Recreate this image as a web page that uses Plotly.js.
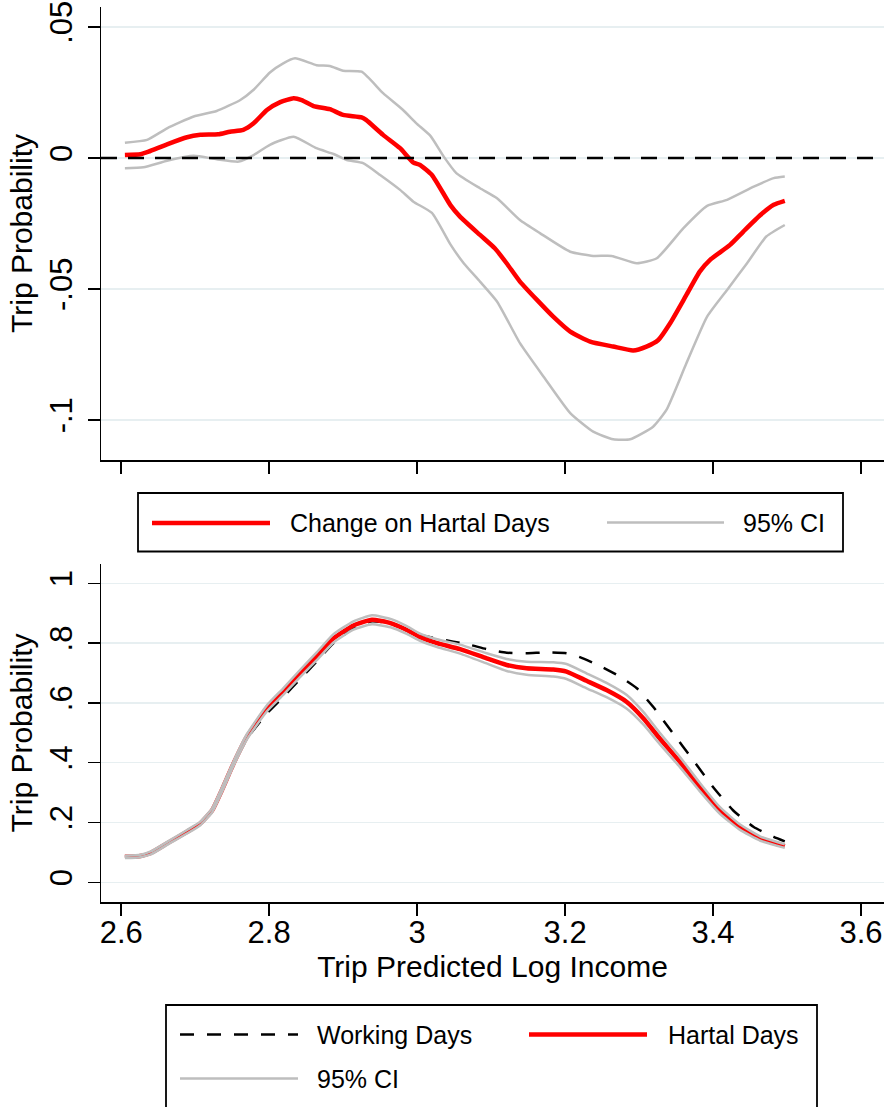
<!DOCTYPE html>
<html>
<head>
<meta charset="utf-8">
<script src="https://cdn.plot.ly/plotly-3.0.1.min.js"></script>
<style>
  html, body { margin: 0; padding: 0; background: #ffffff; }
  #chart { width: 886px; height: 1107px; }
</style>
</head>
<body>
<div id="chart"></div>
<script>
// ---- Top panel: change in trip probability on hartal days ----
const changeX = [2.605,2.626,2.637,2.662,2.689,2.707,2.731,2.747,2.765,2.779,2.797,2.815,2.833,2.844,2.860,2.882,2.900,2.925,2.931,2.954,2.977,2.995,3.004,3.020,3.045,3.058,3.085,3.105,3.121,3.139,3.162,3.184,3.207,3.234,3.265,3.292,3.310,3.326,3.342,3.364,3.382,3.396,3.423,3.441,3.464,3.482,3.497];
const changeY = [0.0011,0.0014,0.0024,0.0052,0.0079,0.0088,0.0090,0.0100,0.0107,0.0132,0.0183,0.0213,0.0228,0.0221,0.0198,0.0186,0.0164,0.0155,0.0145,0.0088,0.0037,-0.0018,-0.0027,-0.0065,-0.0180,-0.0224,-0.0294,-0.0345,-0.0402,-0.0472,-0.0542,-0.0606,-0.0663,-0.0701,-0.0720,-0.0735,-0.0720,-0.0695,-0.0631,-0.0523,-0.0434,-0.0389,-0.0332,-0.0281,-0.0218,-0.0179,-0.0164];

const changeHiX = [2.605,2.635,2.662,2.698,2.729,2.761,2.779,2.801,2.819,2.835,2.864,2.882,2.900,2.925,2.954,2.981,2.999,3.018,3.036,3.053,3.085,3.108,3.139,3.166,3.207,3.238,3.263,3.297,3.324,3.360,3.392,3.419,3.455,3.482,3.497];
const changeHiY = [0.0058,0.0069,0.0113,0.0158,0.0179,0.0221,0.0260,0.0326,0.0361,0.0380,0.0354,0.0351,0.0333,0.0329,0.0247,0.0183,0.0132,0.0084,0.0005,-0.0058,-0.0116,-0.0154,-0.0237,-0.0287,-0.0358,-0.0374,-0.0374,-0.0402,-0.0383,-0.0268,-0.0183,-0.0160,-0.0110,-0.0077,-0.0071];

const changeLoX = [2.605,2.630,2.662,2.698,2.729,2.759,2.779,2.801,2.833,2.864,2.887,2.905,2.927,2.950,2.977,2.995,3.020,3.045,3.063,3.085,3.108,3.139,3.171,3.207,3.238,3.265,3.288,3.319,3.337,3.364,3.392,3.419,3.446,3.472,3.497];
const changeLoY = [-0.0039,-0.0036,-0.0011,0.0008,-0.0005,-0.0014,0.0011,0.0050,0.0081,0.0037,0.0015,-0.0008,-0.0020,-0.0065,-0.0122,-0.0167,-0.0210,-0.0330,-0.0402,-0.0472,-0.0548,-0.0707,-0.0835,-0.0974,-0.1045,-0.1074,-0.1074,-0.1026,-0.0962,-0.0784,-0.0606,-0.0504,-0.0402,-0.0300,-0.0256];

// ---- Bottom panel: trip probability, working vs hartal days ----
const workX = [2.605,2.626,2.640,2.662,2.689,2.707,2.723,2.736,2.752,2.770,2.797,2.819,2.842,2.864,2.887,2.914,2.939,2.964,2.986,3.004,3.049,3.072,3.094,3.121,3.148,3.175,3.202,3.220,3.247,3.274,3.297,3.319,3.346,3.373,3.400,3.427,3.455,3.482,3.497];
const workY = [0.085,0.088,0.098,0.130,0.169,0.197,0.240,0.306,0.395,0.480,0.565,0.620,0.680,0.738,0.800,0.850,0.873,0.866,0.846,0.827,0.805,0.794,0.780,0.768,0.766,0.769,0.766,0.753,0.724,0.688,0.649,0.587,0.498,0.409,0.319,0.241,0.185,0.152,0.137];

const hartalX = [2.605,2.626,2.640,2.662,2.689,2.707,2.723,2.736,2.752,2.770,2.797,2.819,2.842,2.864,2.887,2.914,2.939,2.964,2.986,3.004,3.027,3.058,3.094,3.121,3.148,3.184,3.202,3.229,3.256,3.283,3.306,3.328,3.355,3.382,3.409,3.436,3.464,3.497];
const hartalY = [0.085,0.088,0.098,0.130,0.169,0.197,0.241,0.308,0.398,0.487,0.582,0.638,0.699,0.755,0.816,0.859,0.878,0.867,0.844,0.820,0.800,0.780,0.749,0.727,0.716,0.712,0.705,0.674,0.643,0.604,0.548,0.481,0.403,0.319,0.241,0.185,0.146,0.121];
const hartalHiY = [0.089,0.092,0.103,0.135,0.175,0.203,0.248,0.316,0.406,0.496,0.592,0.649,0.711,0.768,0.830,0.873,0.893,0.881,0.857,0.832,0.813,0.795,0.766,0.747,0.738,0.736,0.730,0.699,0.667,0.627,0.569,0.500,0.420,0.333,0.252,0.194,0.153,0.127];
const hartalLoY = [0.081,0.084,0.093,0.125,0.163,0.191,0.234,0.300,0.390,0.478,0.572,0.627,0.687,0.742,0.802,0.845,0.863,0.853,0.831,0.808,0.787,0.765,0.732,0.707,0.694,0.688,0.680,0.649,0.619,0.581,0.527,0.462,0.386,0.305,0.230,0.176,0.139,0.115];

// ---- Axis ticks and labels ----
const xTickVals = [2.6, 2.8, 3.0, 3.2, 3.4, 3.6];
const xTickText = ['2.6', '2.8', '3', '3.2', '3.4', '3.6'];
const topTickVals = [0.05, 0, -0.05, -0.1];
const topTickText = ['.05', '0', '-.05', '-.1'];
const botTickVals = [0, 0.2, 0.4, 0.6, 0.8, 1];
const botTickText = ['0', '.2', '.4', '.6', '.8', '1'];

const xTitle = 'Trip Predicted Log Income';
const yTitle = 'Trip Probability';
const legendTop = ['Change on Hartal Days', '95% CI'];
const legendBottom = ['Working Days', 'Hartal Days', '95% CI'];

// ---- Styling ----
const FONT = '"Liberation Sans", Arial, Helvetica, sans-serif';
const RED = '#ff0000';
const GREY = 'rgb(190,190,190)';
const GRID = 'rgb(231,239,241)';
const W = 886, H = 1107;
const M = { l: 101, r: 2, t: 7, b: 205 };
const plotW = W - M.l - M.r, plotH = H - M.t - M.b;
// pixel -> paper helpers for legend boxes
const px = X => (X - M.l) / plotW;
const py = Y => (H - M.b - Y) / plotH;

const traces = [
  { x: changeHiX, y: changeHiY, xaxis: 'x', yaxis: 'y', mode: 'lines', name: '95% CI',
    line: { color: GREY, width: 2.5, shape: 'spline', smoothing: 0.5 }, hoverinfo: 'skip' },
  { x: changeLoX, y: changeLoY, xaxis: 'x', yaxis: 'y', mode: 'lines', name: '95% CI',
    line: { color: GREY, width: 2.5, shape: 'spline', smoothing: 0.5 }, hoverinfo: 'skip' },
  { x: changeX, y: changeY, xaxis: 'x', yaxis: 'y', mode: 'lines', name: 'Change on Hartal Days',
    line: { color: RED, width: 4.5, shape: 'spline', smoothing: 0.5 } },

  { x: workX, y: workY, xaxis: 'x2', yaxis: 'y2', mode: 'lines', name: 'Working Days',
    line: { color: '#000000', width: 2.5, dash: '14px,13px', shape: 'spline', smoothing: 0.5 } },
  { x: hartalX, y: hartalY, xaxis: 'x2', yaxis: 'y2', mode: 'lines', name: 'Hartal Days',
    line: { color: RED, width: 4.5, shape: 'spline', smoothing: 0.5 } },
  { x: hartalX, y: hartalHiY, xaxis: 'x2', yaxis: 'y2', mode: 'lines', name: '95% CI',
    line: { color: GREY, width: 2.5, shape: 'spline', smoothing: 0.5 }, hoverinfo: 'skip' },
  { x: hartalX, y: hartalLoY, xaxis: 'x2', yaxis: 'y2', mode: 'lines', name: '95% CI',
    line: { color: GREY, width: 2.5, shape: 'spline', smoothing: 0.5 }, hoverinfo: 'skip' }
];

const xRange = [2.5727, 3.6311];
const axisCommon = {
  showline: true, linecolor: '#000000', linewidth: 1.5,
  ticks: 'outside', ticklen: 12, tickwidth: 1.5, tickcolor: '#000000',
  zeroline: false, fixedrange: true,
  tickfont: { family: FONT, size: 31, color: '#000000' }
};

const layout = {
  width: W, height: H,
  margin: M,
  paper_bgcolor: '#ffffff', plot_bgcolor: 'rgba(0,0,0,0)',
  showlegend: false,
  font: { family: FONT, color: '#000000' },
  xaxis: Object.assign({}, axisCommon, {
    domain: [0, 1], anchor: 'y', range: xRange,
    tickmode: 'array', tickvals: xTickVals, ticktext: xTickText,
    showticklabels: false, showgrid: false
  }),
  yaxis: Object.assign({}, axisCommon, {
    domain: [py(460), 1], anchor: 'x', range: [-0.1153, 0.0576],
    tickmode: 'array', tickvals: topTickVals, ticktext: topTickText, tickangle: -90,
    ticklabelstandoff: 3,
    showgrid: true, gridcolor: GRID, gridwidth: 1.5,
    title: { text: yTitle, font: { family: FONT, size: 30 }, standoff: 2 }
  }),
  xaxis2: Object.assign({}, axisCommon, {
    domain: [0, 1], anchor: 'y2', range: xRange,
    tickmode: 'array', tickvals: xTickVals, ticktext: xTickText,
    ticklabelstandoff: -10,
    showgrid: false,
    title: { text: xTitle, font: { family: FONT, size: 30 }, standoff: 6 }
  }),
  yaxis2: Object.assign({}, axisCommon, {
    domain: [0, py(564)], anchor: 'x2', range: [-0.066, 1.0647],
    tickmode: 'array', tickvals: botTickVals, ticktext: botTickText, tickangle: -90,
    ticklabelstandoff: 3,
    showgrid: true, gridcolor: GRID, gridwidth: 1.5,
    title: { text: yTitle, font: { family: FONT, size: 30 }, standoff: 2 }
  }),
  shapes: [
    // reference line at zero change
    { type: 'line', xref: 'paper', yref: 'y', x0: 0, x1: 1, y0: 0, y1: 0, layer: 'above',
      line: { color: '#000000', width: 2.5, dash: '16px,11px' } },
    // legend box: top panel
    { type: 'rect', xref: 'paper', yref: 'paper', x0: px(138), x1: px(843), y0: py(551.5), y1: py(493),
      line: { color: '#000000', width: 1.8 }, fillcolor: 'rgba(0,0,0,0)' },
    { type: 'line', xref: 'paper', yref: 'paper', x0: px(152), x1: px(270), y0: py(523), y1: py(523),
      line: { color: RED, width: 4.5 } },
    { type: 'line', xref: 'paper', yref: 'paper', x0: px(607), x1: px(724), y0: py(522.5), y1: py(522.5),
      line: { color: GREY, width: 2.5 } },
    // legend box: bottom panel
    { type: 'rect', xref: 'paper', yref: 'paper', x0: px(166), x1: px(817), y0: py(1125), y1: py(1005),
      line: { color: '#000000', width: 1.8 }, fillcolor: 'rgba(0,0,0,0)' },
    { type: 'line', xref: 'paper', yref: 'paper', x0: px(180), x1: px(298), y0: py(1034.5), y1: py(1034.5),
      line: { color: '#000000', width: 2.5, dash: '14px,13px' } },
    { type: 'line', xref: 'paper', yref: 'paper', x0: px(529), x1: px(647), y0: py(1034.5), y1: py(1034.5),
      line: { color: RED, width: 4.5 } },
    { type: 'line', xref: 'paper', yref: 'paper', x0: px(180), x1: px(298), y0: py(1078.5), y1: py(1078.5),
      line: { color: GREY, width: 2.5 } }
  ],
  annotations: [
    { text: legendTop[0], xref: 'paper', yref: 'paper', x: px(288), y: py(523), xanchor: 'left', yanchor: 'middle',
      showarrow: false, font: { family: FONT, size: 25, color: '#000000' } },
    { text: legendTop[1], xref: 'paper', yref: 'paper', x: px(741), y: py(523), xanchor: 'left', yanchor: 'middle',
      showarrow: false, font: { family: FONT, size: 25, color: '#000000' } },
    { text: legendBottom[0], xref: 'paper', yref: 'paper', x: px(315), y: py(1034.5), xanchor: 'left', yanchor: 'middle',
      showarrow: false, font: { family: FONT, size: 25, color: '#000000' } },
    { text: legendBottom[1], xref: 'paper', yref: 'paper', x: px(666), y: py(1034.5), xanchor: 'left', yanchor: 'middle',
      showarrow: false, font: { family: FONT, size: 25, color: '#000000' } },
    { text: legendBottom[2], xref: 'paper', yref: 'paper', x: px(315), y: py(1078.5), xanchor: 'left', yanchor: 'middle',
      showarrow: false, font: { family: FONT, size: 25, color: '#000000' } }
  ]
};

Plotly.newPlot('chart', traces, layout, { staticPlot: true, displayModeBar: false });
</script>
</body>
</html>
